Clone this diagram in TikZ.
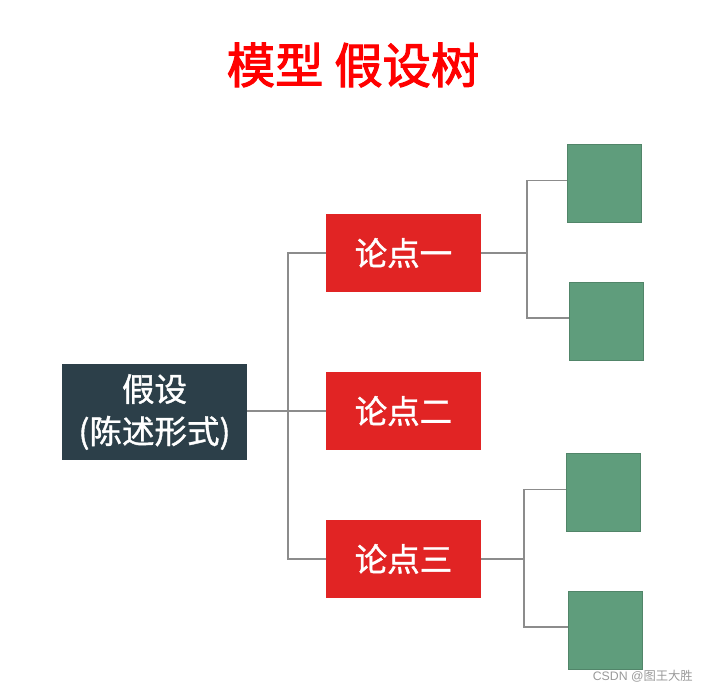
\documentclass[tikz,border=0pt]{standalone}
\usepackage{fontspec}
\setmainfont{Noto Sans CJK SC}
\setsansfont{Liberation Sans}
\newfontfamily\boxfont{Noto Sans CJK SC}[FakeBold=1.2]
\newfontfamily\headfont{Noto Sans CJK SC}[FakeBold=2.2]
\usepackage{tikz}

\definecolor{rootfill}{HTML}{2C3F49}
\definecolor{claimred}{HTML}{E12424}
\definecolor{leafgreen}{HTML}{5F9D7C}
\definecolor{linegray}{HTML}{8C8C8C}

\begin{document}
\begin{tikzpicture}[x=0.02cm, y=-0.02cm, every node/.style={font=\boxfont\fontsize{18.5}{24}\selectfont},
	rootbox/.style={fill=rootfill, text=white, minimum width=3.7cm, minimum height=1.92cm, align=center, inner sep=0pt},
	claimbox/.style={fill=claimred, text=white, minimum width=3.1cm, minimum height=1.56cm, inner sep=0pt},
	leafbox/.style={fill=leafgreen, draw=leafgreen!85!black, line width=0.3pt, minimum width=1.48cm, minimum height=1.56cm, inner sep=0pt},
	branch/.style={draw=linegray, line width=0.8pt}]
	\useasboundingbox (0,0) rectangle (704,690);
	% title
	\node[text=red, font=\headfont\fontsize{27.5}{30}\selectfont] (title) at (353,65) {模型 假设树};
	% root and claims
	\node[rootbox] (root) at (154.5,412) {假设\\(陈述形式)};
	\node[claimbox] (p1) at (403.5,253) {论点一};
	\node[claimbox] (p2) at (403.5,411) {论点二};
	\node[claimbox] (p3) at (403.5,559) {论点三};
	% leaves
	\node[leafbox] (g1) at (604.5,183.5) {};
	\node[leafbox] (g2) at (606,321) {};
	\node[leafbox] (g3) at (603,492.5) {};
	\node[leafbox] (g4) at (605,630) {};
	% connectors
	\coordinate (j0) at (288,411);
	\coordinate (j1) at (527,253);
	\coordinate (j3) at (524,559);
	\draw[branch] (root.east|-j0) -- (j0);
	\foreach \p in {p1,p2,p3}
		\draw[branch] (j0) |- (\p.west);
	\draw[branch] (p1.east) -- (j1);
	\foreach \g in {g1,g2}
		\draw[branch] (j1) |- ([yshift=0.06cm]\g.west);
	\draw[branch] (p3.east) -- (j3);
	\foreach \g in {g3,g4}
		\draw[branch] (j3) |- ([yshift=0.06cm]\g.west);
	% watermark
	\node[text=gray!80, font=\fontsize{7}{8}\selectfont, anchor=east] (mark) at (699,676) {\sffamily CSDN @\rmfamily 图王大胜};
\end{tikzpicture}
\end{document}
